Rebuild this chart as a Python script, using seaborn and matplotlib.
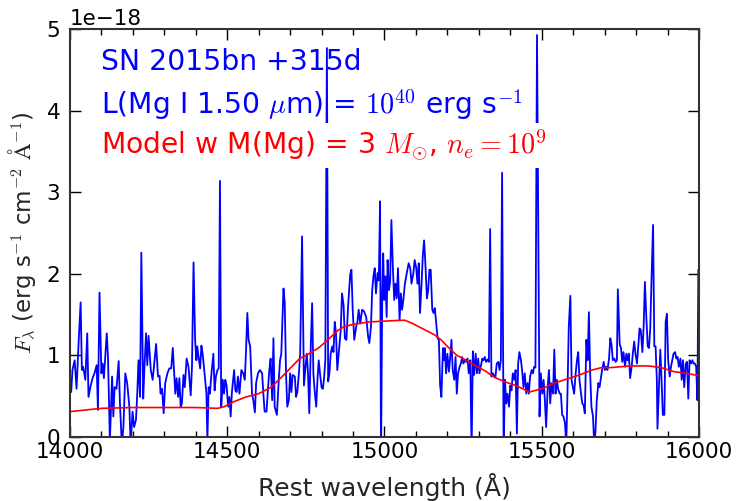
import pandas as pd
import matplotlib.pyplot as plt
from matplotlib.ticker import MultipleLocator
import seaborn as sns

# observed spectrum, flux in units of 1e-18 erg/s/cm2/A
wave = [
    14000, 14004, 14008, 14015, 14021, 14028, 14034, 14038, 14042, 14049,
    14055, 14059, 14066, 14072, 14078, 14085, 14089, 14094, 14100, 14104,
    14108, 14117, 14121, 14127, 14134, 14138, 14142, 14148, 14155, 14159,
    14165, 14170, 14176, 14182, 14189, 14193, 14199, 14204, 14210, 14214,
    14218, 14223, 14227, 14233, 14237, 14242, 14246, 14250, 14257, 14263,
    14269, 14274, 14280,
    14285, 14288, 14293, 14298, 14303, 14310, 14316, 14322, 14327, 14331,
    14335, 14339, 14344, 14348, 14352, 14356, 14361, 14365, 14371, 14377,
    14384, 14388, 14393, 14398, 14402, 14405, 14409, 14414, 14418, 14422,
    14428, 14434, 14437, 14441, 14445, 14450, 14456, 14460, 14464, 14469,
    14473, 14477, 14481, 14486, 14490, 14494, 14498, 14503, 14507, 14511,
    14515, 14522, 14526, 14530, 14534, 14539, 14545, 14551, 14556, 14560,
    14564, 14568, 14573,
    14579, 14583, 14588, 14592, 14598, 14604, 14611, 14615, 14619, 14625,
    14630, 14634, 14638, 14643, 14647, 14651, 14658, 14664, 14668, 14672,
    14679, 14683, 14687, 14691, 14696, 14700, 14704, 14708, 14715, 14719,
    14723, 14728, 14732, 14738, 14744, 14749, 14753, 14757, 14761, 14766,
    14770, 14774, 14778, 14783, 14787, 14791, 14795, 14800, 14804, 14808,
    14812, 14817, 14821, 14825, 14829, 14834, 14838, 14842, 14846, 14850,
    14861, 14865, 14870, 14874, 14879, 14884, 14891, 14895, 14899, 14904,
    14910, 14914, 14918, 14923, 14929, 14935, 14942, 14948, 14952, 14957,
    14961, 14965, 14969, 14973, 14978, 14982, 14986, 14989, 14993, 14996,
    14999, 15003, 15007, 15010, 15014, 15018, 15022, 15027, 15031, 15035,
    15039, 15043, 15048, 15052, 15056, 15060, 15065, 15071, 15077, 15082,
    15086, 15092, 15096, 15101, 15105, 15109, 15113, 15118, 15122, 15126,
    15130, 15135, 15139,
    15143, 15147, 15152, 15156, 15160, 15164, 15169, 15173, 15177, 15181,
    15186, 15190, 15192, 15196, 15200, 15205, 15209, 15213, 15217, 15222,
    15226, 15230, 15234, 15239, 15243, 15247, 15251, 15256, 15260, 15264,
    15268, 15273, 15277, 15281, 15285, 15290, 15294, 15298, 15302, 15306,
    15311, 15315, 15319, 15323, 15328, 15332, 15336, 15340, 15345, 15349,
    15353, 15357, 15362, 15366, 15370, 15374, 15379, 15383, 15387, 15391,
    15396, 15400, 15404, 15408, 15413, 15417, 15421, 15425,
    15429, 15434, 15438, 15442, 15446, 15451, 15455, 15459, 15463, 15468,
    15472, 15476, 15480, 15485, 15493, 15497, 15502, 15506, 15510, 15514,
    15519, 15523, 15527, 15531, 15536, 15540, 15544, 15548, 15552, 15557,
    15561, 15565, 15569, 15574, 15578, 15582, 15586, 15591, 15595, 15599,
    15603, 15608, 15612, 15616, 15620, 15625, 15629, 15633, 15637, 15642,
    15646, 15650, 15654, 15658, 15663, 15667, 15671, 15675, 15680, 15684,
    15688, 15692, 15697, 15701, 15705, 15709, 15714, 15718,
    15722, 15726, 15731, 15735, 15739, 15742, 15748, 15752, 15756, 15760,
    15765, 15769, 15773, 15777, 15781, 15786, 15790, 15794, 15798, 15803,
    15807, 15811, 15815, 15820, 15824, 15828, 15832, 15837, 15841, 15845,
    15849, 15854, 15858, 15862, 15866, 15868, 15873, 15877, 15881, 15885,
    15890, 15894, 15898, 15902, 15907, 15911, 15915, 15919, 15924, 15928,
    15932, 15936, 15941, 15945, 15949, 15953, 15958, 15962, 15966, 15970,
    15975, 15979, 15983, 15987, 15991, 15995, 15998,
]
flux = [
    0.70, 0.55, 0.82, 0.94, 0.59, 1.19, 1.65, 0.82, 0.86, 0.70,
    1.27, 0.49, 0.63, 0.72, 0.78, 0.88, 0.33, 1.77, 0.78, 0.90,
    0.72, 1.27, 0.98, -0.05, 0.74, 0.25, 0.61, 0.59, 0.93, 0.41,
    -0.10, 0.12, 0.78, 0.66, 0.37, -0.10, 0.31, 0.12, 0.21, 0.53,
    0.94, 0.49, 2.26, 0.47, 0.86, 1.27, 0.88, 1.24, 0.82, 0.70,
    0.94, 1.14, 0.74,
    0.75, 0.53, 0.59, 0.29, 0.66, 0.78, 0.84, 0.84, 1.09, 0.82,
    0.53, 0.72, 0.49, 0.72, 0.37, 0.41, 0.76, 0.61, 0.96, 0.86,
    0.51, 0.86, 2.14, 1.19, 0.94, 1.11, 0.98, 0.84, 1.12, 1.02,
    0.78, 0.53, -0.05, 0.61, 0.53, 0.78, 1.02, 0.57, 0.74, 0.82,
    0.84, 3.14, 0.37, 0.70, 0.53, 0.70, 0.63, 0.37, 0.49, 0.25,
    0.55, 0.82, 0.57, 0.55, 0.74, 0.53, 0.82, 0.78, 0.70, 1.07,
    1.52, 1.19, 1.11,
    0.53, 0.45, 0.30, 0.66, 0.78, 0.82, 0.78, 0.53, 0.31, 0.31,
    0.61, 0.82, 0.96, 0.45, 1.21, 0.37, 0.27, 0.70, 0.94, 1.02,
    1.82, 1.64, 0.78, 0.37, 0.45, 0.78, 0.55, 0.76, 0.74, 0.49,
    0.55, 0.78, 1.02, 2.46, 0.63, 0.86, 1.02, 0.78, 0.29, 1.15,
    1.64, 0.78, 0.57, 0.37, 0.70, 0.94, 0.78, 0.61, 0.59, 0.72,
    0.94, 4.77, 0.68, 0.78, 1.02, 1.11, 1.04, 1.41, 1.27, 0.82,
    1.31, 1.76, 1.62, 1.21, 1.19, 1.58, 1.99, 2.05, 1.56, 1.19,
    1.35, 1.41, 1.56, 1.39, 1.56, 1.54, 1.47, 1.23, 1.15, 1.35,
    1.80, 1.97, 2.07, 1.76, 2.01, 1.92, 2.89, -0.30, 1.78, 2.25,
    1.68, 1.97, 1.47, 2.17, 1.80, 1.90, 2.66, 2.05, 1.68, 1.88,
    1.70, 2.07, 1.43, 1.76, 1.56, 1.68, 1.88, 2.01, 2.13, 2.07,
    1.88, 2.01, 2.17, 2.07, 1.88, 2.13, 1.52, 1.88, 2.23, 2.41,
    2.13, 1.70, 1.80,
    2.05, 2.05, 1.56, 1.52, 1.58, 1.41, 1.21, 1.19, 0.63, 0.49,
    1.09, 0.94, 1.09, 0.78, 1.02, 0.80, 0.98, 1.19, 0.82, 0.70,
    0.98, 0.53, 0.78, 0.86, 0.90, 0.98, 0.90, 0.94, 0.92, 0.96,
    0.78, 0.94, -0.20, 1.05, 0.76, 1.02, 0.78, 0.96, 0.78, 0.86,
    0.96, 0.94, 0.98, 0.92, 0.95, 0.92, 2.55, 0.74, 0.78, 0.74,
    0.74, 0.90, 0.92, 0.82, 0.94, 3.24, -0.20, 0.70, 0.41, 0.53,
    0.37, 0.63, 0.57, 0.78, 0.70, 0.82, 0.04, 0.90,
    1.04, 0.94, 0.80, 0.61, 0.78, 0.53, 0.66, 0.53, 0.74, 0.82,
    0.78, 0.86, 0.85, 4.93, 0.25, 0.78, 0.53, 0.70, 0.45, 0.12,
    0.61, 0.82, 0.41, 0.66, 0.53, 1.07, 0.53, 0.70, 0.59, 0.53,
    0.53, 0.27, 0.25, 0.17, -0.10, 0.57, 1.35, 1.73, 0.70, 0.61,
    0.53, 0.78, 0.94, 1.04, 0.70, 0.53, 0.41, 0.39, 0.29, 1.19,
    0.94, 1.53, 0.78, 0.37, 0.25, -0.10, 0.08, 0.45, 0.66, 0.61,
    0.72, 0.82, 0.92, 0.82, 0.86, 0.82, 0.96, 1.21,
    1.13, 0.94, 0.96, 0.92, 0.94, 1.81, 1.13, 1.09, 0.92, 1.04,
    0.86, 1.02, 0.94, 1.02, 0.72, 0.86, 1.04, 1.17, 1.02, 0.90,
    1.11, 1.33, 1.31, 1.04, 1.35, 1.90, 1.52, 1.11, 1.09, 1.33,
    1.92, 2.60, 1.11, 1.11, 0.70, 0.10, 0.66, 1.07, 0.70, 0.27,
    0.27, 1.41, 1.51, 0.94, 0.74, 0.86, 0.94, 1.02, 1.04, 0.96,
    0.98, 0.86, 0.96, 0.70, 0.94, 0.61, 0.90, 0.92, 0.47, 0.94,
    0.90, 0.94, 0.90, 0.90, 0.86, 0.45, 2.05,
]

# model spectrum
model_wave = [
    14000, 14100, 14200, 14300, 14400, 14470, 14490, 14520, 14560, 14600,
    14640, 14680, 14700, 14730, 14760, 14790, 14820, 14850, 14870, 14900,
    14950, 15000, 15050, 15065, 15090, 15120, 15140, 15160, 15180, 15200,
    15230, 15260, 15290, 15320, 15350, 15380, 15410, 15440, 15460, 15480,
    15500, 15540, 15580, 15620, 15660, 15690, 15720, 15780, 15840, 15880,
    15920, 15960, 16000,
]
model_flux = [
    0.31, 0.35, 0.36, 0.36, 0.36, 0.35, 0.37, 0.43, 0.49, 0.53,
    0.61, 0.76, 0.84, 0.96, 1.02, 1.09, 1.19, 1.30, 1.35, 1.38,
    1.41, 1.42, 1.43, 1.43, 1.39, 1.33, 1.29, 1.25, 1.19, 1.11,
    1.00, 0.94, 0.87, 0.81, 0.73, 0.68, 0.64, 0.59, 0.55, 0.57,
    0.59, 0.66, 0.71, 0.76, 0.82, 0.85, 0.85, 0.87, 0.87, 0.85,
    0.80, 0.78, 0.75,
]

sns.set_style("ticks", {"xtick.direction": "in", "ytick.direction": "in"})
plt.rcParams['font.family'] = ['DejaVu Sans']
plt.rcParams['mathtext.fontset'] = 'cm'

fig, ax = plt.subplots(figsize=(7.44, 5.01), dpi=100)
fig.subplots_adjust(left=0.094, right=0.9395, top=0.9415, bottom=0.128)

spec = pd.DataFrame({'wave': wave, 'flux': [f * 1e-18 for f in flux]})
model = pd.DataFrame({'wave': model_wave, 'flux': [f * 1e-18 for f in model_flux]})

sns.lineplot(data=spec, x='wave', y='flux', color='b', lw=1.3,
             estimator=None, sort=False, ax=ax)
sns.lineplot(data=model, x='wave', y='flux', color='r', lw=1.2,
             estimator=None, sort=False, ax=ax)

ax.set_xlim(14000, 16000)
ax.set_ylim(0, 5e-18)
ax.xaxis.set_major_locator(MultipleLocator(500))
ax.xaxis.set_minor_locator(MultipleLocator(100))
ax.yaxis.set_major_locator(MultipleLocator(1e-18))
ax.tick_params(which='both', direction='in', top=True, right=True,
               colors='black', labelsize=15.5)
ax.tick_params(axis='x', which='major', length=8, width=1, pad=4)
ax.tick_params(axis='y', which='major', length=8, width=1, pad=7)
ax.tick_params(which='minor', length=4, width=1)
ax.yaxis.get_offset_text().set_fontsize(15.5)
for s in ax.spines.values():
    s.set_color('#333333')
    s.set_linewidth(1.5)

ax.set_xlabel('Rest wavelength (Å)', fontsize=18, va='top')
ax.set_ylabel(r'$F_{\lambda}$ (erg s$^{-1}$ cm$^{-2}$ $\rm{\AA}^{-1}$)', fontsize=16.5)
ax.xaxis.set_label_coords(0.5, -0.088)
ax.yaxis.set_label_coords(-0.05, 0.5)

ax.text(0.049, 0.92, 'SN 2015bn +315d', transform=ax.transAxes,
        color='b', fontsize=20.3, va='center')
ax.text(0.049, 0.815, r'L(Mg I 1.50 $\mu$m) = $10^{40}$ erg s$^{-1}$',
        transform=ax.transAxes, color='b', fontsize=20.3, va='center')
ax.text(0.049, 0.715, r'Model w M(Mg) = 3 $M_{\odot}$, $n_e = 10^9$',
        transform=ax.transAxes, color='r', fontsize=20.3, va='center',
        bbox=dict(facecolor='white', edgecolor='none', pad=3.5))

fig.savefig('out.png', dpi=100)
